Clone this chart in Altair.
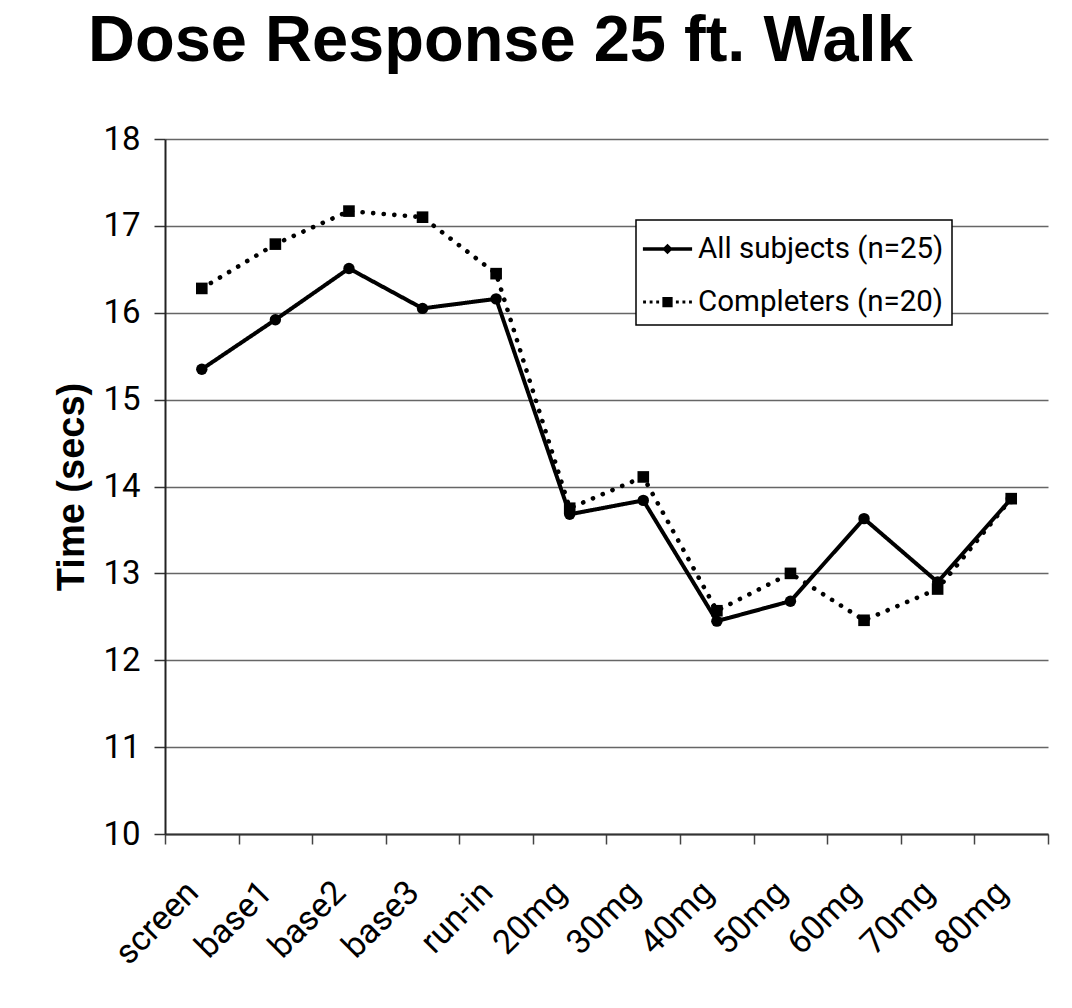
import altair as alt
import pandas as pd

visits = ["screen", "base1", "base2", "base3", "run-in", "20mg", "30mg",
          "40mg", "50mg", "60mg", "70mg", "80mg"]
all_subjects = [15.35, 15.92, 16.51, 16.05, 16.16, 13.68, 13.84, 12.45,
                12.68, 13.63, 12.90, 13.86]
completers = [16.28, 16.79, 17.17, 17.10, 16.45, 13.75, 14.11, 12.57,
              13.00, 12.46, 12.82, 13.86]
series_names = ["All subjects (n=25)", "Completers (n=20)"]

rows = []
for v, c in zip(visits, completers):
    rows.append({"visit": v, "time": c, "series": series_names[1], "order": 0})
for v, a in zip(visits, all_subjects):
    rows.append({"visit": v, "time": a, "series": series_names[0], "order": 1})
df = pd.DataFrame(rows)

LABEL_FONT = "Roboto"

x_enc = alt.X("visit:N", sort=visits,
              scale=alt.Scale(type="band", paddingInner=0, paddingOuter=0),
              axis=alt.Axis(title=None, labelAngle=-45, labelAlign="right",
                            labelBaseline="middle", labelOffset=-9,
                            labelPadding=43, tickBand="extent", tickSize=10,
                            tickColor="#444", tickWidth=1.5, domainColor="#333",
                            domainWidth=2, grid=False, labelFont=LABEL_FONT,
                            labelFontSize=34, labelColor="black"))
y_enc = alt.Y("time:Q", scale=alt.Scale(domain=[10, 18], nice=False, zero=False),
              axis=alt.Axis(title="Time (secs)", values=list(range(10, 19)),
                            tickSize=11, tickColor="#333", tickWidth=1.5,
                            domainColor="#222", domainWidth=2,
                            gridColor="#666", gridWidth=1.5,
                            labelFont=LABEL_FONT, labelFontSize=33,
                            labelColor="black", labelPadding=14,
                            titleFont="Liberation Sans", titleFontSize=38,
                            titleFontWeight="bold", titleColor="black",
                            titlePadding=11))

base = alt.Chart(df)

lines = base.mark_line(color="black", strokeCap="round").encode(
    x=x_enc, y=y_enc,
    detail="series:N",
    strokeDash=alt.StrokeDash("series:N",
                              scale=alt.Scale(domain=series_names,
                                              range=[[1, 0], [0.1, 10.5]]),
                              legend=None),
    strokeWidth=alt.StrokeWidth("series:N",
                                scale=alt.Scale(domain=series_names,
                                                range=[4, 4.6]),
                                legend=None),
)

points = base.mark_point(filled=True, color="black", opacity=1).encode(
    x=x_enc, y=y_enc,
    shape=alt.Shape("series:N",
                    scale=alt.Scale(domain=series_names, range=["circle", "square"]),
                    legend=None),
    size=alt.Size("series:N",
                  scale=alt.Scale(domain=series_names, range=[130, 135]),
                  legend=None),
    order=alt.Order("order:Q"),
)

solid_sym = "M-1.2,-0.08H1.2V0.08H-1.2Z M0,-0.26L0.26,0L0,0.26L-0.26,0Z"
dot = lambda cx: f"M{cx-0.07:.2f},-0.07H{cx+0.07:.2f}V0.07H{cx-0.07:.2f}Z"
dotted_sym = " ".join([dot(-1.12), dot(-0.8), dot(-0.48),
                       "M-0.25,-0.25H0.25V0.25H-0.25Z",
                       dot(0.48), dot(0.8), dot(1.12)])

legend_layer = base.transform_filter("false").mark_point(
    filled=True, color="black", opacity=1).encode(
    x=x_enc, y=y_enc,
    shape=alt.Shape("series:N",
                    scale=alt.Scale(domain=series_names,
                                    range=[solid_sym, dotted_sym]),
                    legend=alt.Legend(title=None, orient="none",
                                      legendX=471, legendY=81,
                                      symbolSize=1681, symbolOffset=2.5,
                                      symbolFillColor="black",
                                      symbolStrokeWidth=0, symbolOpacity=1,
                                      labelFont=LABEL_FONT, labelFontSize=29.5,
                                      labelColor="black", labelOffset=10,
                                      labelLimit=400, rowPadding=18,
                                      padding=8.5, strokeColor="black",
                                      fillColor="white", cornerRadius=0)),
)

chart = alt.layer(lines, points, legend_layer).resolve_scale(
    shape="independent"
).properties(
    width=883, height=695,
    autosize=alt.AutoSizeParams(type="none"),
    padding={"left": 157, "top": 131, "right": 16, "bottom": 150},
    title=alt.TitleParams("Dose Response 25 ft. Walk", anchor="start",
                          frame="group",
                          font="Liberation Sans", fontSize=65,
                          fontWeight="bold", color="black", dx=-77, offset=48),
    background="white",
).configure_view(stroke=None).configure_legend(strokeWidth=1.5)

chart.save("out.html", embed_options={"renderer": "svg", "actions": False})
